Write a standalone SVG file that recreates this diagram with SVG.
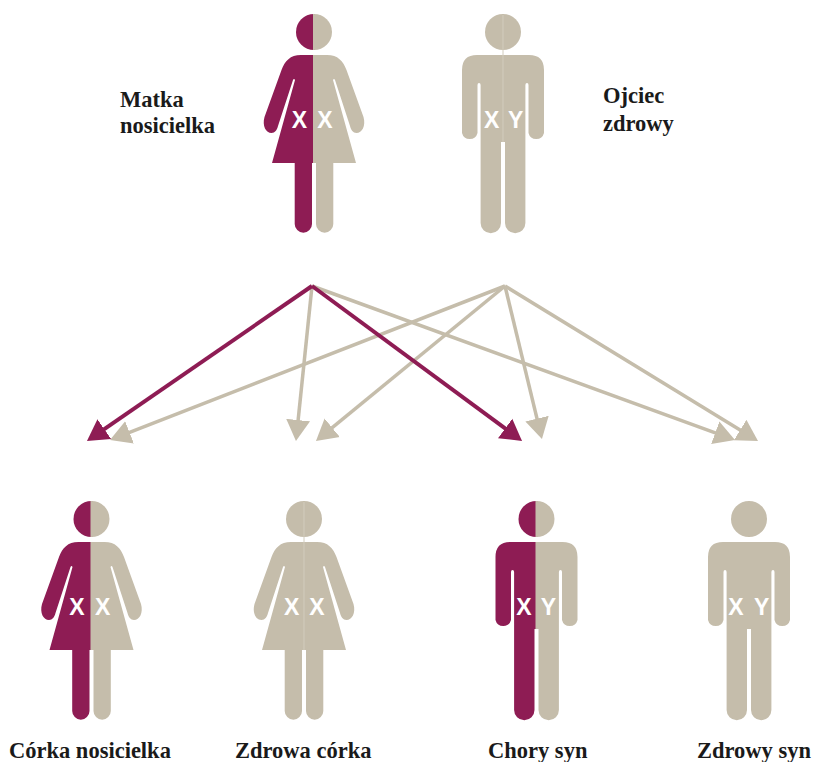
<svg xmlns="http://www.w3.org/2000/svg" xmlns:xlink="http://www.w3.org/1999/xlink" width="814" height="762" viewBox="0 0 814 762">
  <style>
    .p{fill:#8e1c54}
    .b{fill:#c5bdab}
    .seam{stroke:#d2ccbd;stroke-width:1;fill:none}
    .chr{font-family:"Liberation Sans",Arial,sans-serif;font-weight:700;font-size:23px;fill:#fff;text-anchor:middle}
    .lbl{font-family:"Liberation Serif","Times New Roman",serif;font-weight:700;font-size:22.5px;fill:#1a1a1a}
    .lp{stroke:#8e1c54;stroke-width:4;fill:none;marker-end:url(#hp)}
    .lb{stroke:#c5bdab;stroke-width:3.5;fill:none;marker-end:url(#hb)}
  </style>
  <defs>
    <marker id="hp" markerUnits="userSpaceOnUse" markerWidth="24" markerHeight="26" viewBox="-1 -13 24 26" refX="10" refY="0" orient="auto"><path d="M-1,-12L20,0L-1,12Z" fill="#8e1c54"/></marker>
    <marker id="hb" markerUnits="userSpaceOnUse" markerWidth="24" markerHeight="26" viewBox="-1 -13 24 26" refX="10" refY="0" orient="auto"><path d="M-1,-12L20,0L-1,12Z" fill="#c5bdab"/></marker>
    <g id="fh">
      <path d="M-1,0H0A18,18 0 0 1 0,36H-1Z"/>
      <path d="M-1,41H13C24,41 29,47 32.5,56L49.5,103C52,112 48,119 42.5,119C39,119 37,116 36,112L21,66Q20,64 19,66L42,149H19.3V210A8.65,8.65 0 0 1 2,210V149H-1Z"/>
    </g>
    <g id="mh">
      <path d="M-1,0H0A18,18 0 0 1 0,36H-1Z"/>
      <path d="M-1,41H26Q41,41 41,56V119A8,8 0 0 1 25.5,119V71Q25.5,69 24,69Q22.4,69 22.4,71V209A10.2,10.2 0 0 1 2,209V128H-1Z"/>
    </g>
  </defs>
  <rect width="814" height="762" fill="#fff"/>

  <g id="connectors">
    <line class="lb" x1="505" y1="286" x2="119.3" y2="436.4"/>
    <line class="lb" x1="312" y1="286" x2="297" y2="431"/>
    <line class="lb" x1="505" y1="286" x2="323.7" y2="434.7"/>
    <line class="lb" x1="505" y1="286" x2="539.6" y2="429.3"/>
    <line class="lb" x1="312" y1="286" x2="725.6" y2="436.6"/>
    <line class="lb" x1="505" y1="286" x2="749.5" y2="435.8"/>
    <line class="lp" x1="312" y1="286" x2="95.2" y2="435.3"/>
    <line class="lp" x1="312" y1="286" x2="514" y2="435"/>
  </g>

  <g id="matka" transform="translate(314,14)">
    <use href="#fh" class="p" transform="scale(-1,1)"/>
    <use href="#fh" class="b"/>
    <text class="chr" x="-14.7" y="114">X</text>
    <text class="chr" x="11" y="114">X</text>
  </g>
  <g id="ojciec" transform="translate(503,14)">
    <use href="#mh" class="b" transform="scale(-1,1)"/>
    <use href="#mh" class="b"/>
    <line class="seam" x1="0" y1="1" x2="0" y2="128"/>
    <text class="chr" x="-11.3" y="114">X</text>
    <text class="chr" x="12.7" y="114">Y</text>
  </g>
  <g id="corka-nosicielka" transform="translate(91.5,501)">
    <use href="#fh" class="p" transform="scale(-1,1)"/>
    <use href="#fh" class="b"/>
    <text class="chr" x="-14.5" y="114">X</text>
    <text class="chr" x="11.2" y="114">X</text>
  </g>
  <g id="zdrowa-corka" transform="translate(304,501)">
    <use href="#fh" class="b" transform="scale(-1,1)"/>
    <use href="#fh" class="b"/>
    <line class="seam" x1="0" y1="1" x2="0" y2="149"/>
    <text class="chr" x="-12.3" y="114">X</text>
    <text class="chr" x="13" y="114">X</text>
  </g>
  <g id="chory-syn" transform="translate(536.5,501)">
    <use href="#mh" class="p" transform="scale(-1,1)"/>
    <use href="#mh" class="b"/>
    <text class="chr" x="-12.5" y="114">X</text>
    <text class="chr" x="11.8" y="114">Y</text>
  </g>
  <g id="zdrowy-syn" transform="translate(749,501)">
    <use href="#mh" class="b" transform="scale(-1,1)"/>
    <use href="#mh" class="b"/>
    <text class="chr" x="-13" y="114">X</text>
    <text class="chr" x="12.7" y="114">Y</text>
  </g>

  <g id="labels">
    <text class="lbl" x="120" y="107">Matka</text>
    <text class="lbl" x="120" y="133">nosicielka</text>
    <text class="lbl" x="603" y="103">Ojciec</text>
    <text class="lbl" x="603" y="131">zdrowy</text>
    <text class="lbl" x="9" y="758">Córka nosicielka</text>
    <text class="lbl" x="235" y="758">Zdrowa córka</text>
    <text class="lbl" x="488" y="758">Chory syn</text>
    <text class="lbl" x="697" y="758">Zdrowy syn</text>
  </g>
</svg>
